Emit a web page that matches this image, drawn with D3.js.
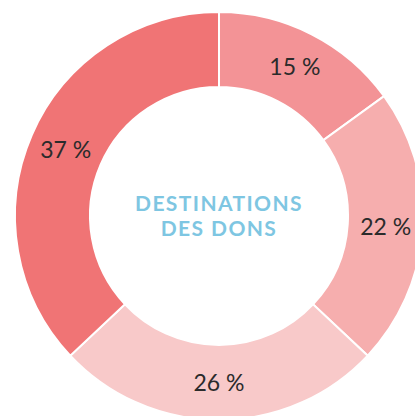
<!DOCTYPE html>
<html lang="fr">
<head>
    <meta charset="UTF-8">
    <title>Destinations des dons</title>
    <script src="https://d3js.org/d3.v7.min.js"></script>
    <style>
        body { margin: 0; background: #fff; }
        .label { font: 400 23px Lato, "Open Sans", sans-serif; fill: #2b2b2b; }
        .title { font: 700 21px Lato, "Open Sans", sans-serif; fill: #7ec6e2; letter-spacing: 1.4px; }
    </style>
</head>
<body>
<svg id="chart" width="415" height="416"></svg>
<script>
    // data
    var shares = [15, 22, 26, 37];
    var labels = ["15 %", "22 %", "26 %", "37 %"];
    var colours = ["#f39396", "#f6aeae", "#f8c9c9", "#f07475"];
    var titleLines = ["DESTINATIONS", "DES DONS"];

    var svg = d3.select("#chart");
    const cx = 219, cy = 216, outer = 204, inner = 129;

    var pie = d3.pie().sort(null).value(function (d) { return d; });
    var arc = d3.arc().innerRadius(inner).outerRadius(outer);
    var labelArc = d3.arc().innerRadius(167).outerRadius(167);

    var g = svg.append("g").attr("transform", "translate(" + cx + "," + cy + ")");

    var slices = g.selectAll("g.slice")
            .data(pie(shares))
            .enter().append("g")
            .attr("class", "slice");

    slices.append("path")
            .attr("d", arc)
            .attr("fill", function (d, i) { return colours[i]; })
            .attr("stroke", "#fff")
            .attr("stroke-width", 2);

    slices.append("text")
            .attr("class", "label")
            .attr("text-anchor", "middle")
            .attr("dy", "0.36em")
            .attr("transform", function (d) {
                var c = labelArc.centroid(d);
                return "translate(" + c[0] + "," + c[1] + ")";
            })
            .text(function (d, i) { return labels[i]; });

    g.selectAll("text.title")
            .data(titleLines)
            .enter().append("text")
            .attr("class", "title")
            .attr("text-anchor", "middle")
            .attr("x", 0)
            .attr("y", function (d, i) { return -5 + i * 25; })
            .text(function (d) { return d; });
</script>
</body>
</html>
